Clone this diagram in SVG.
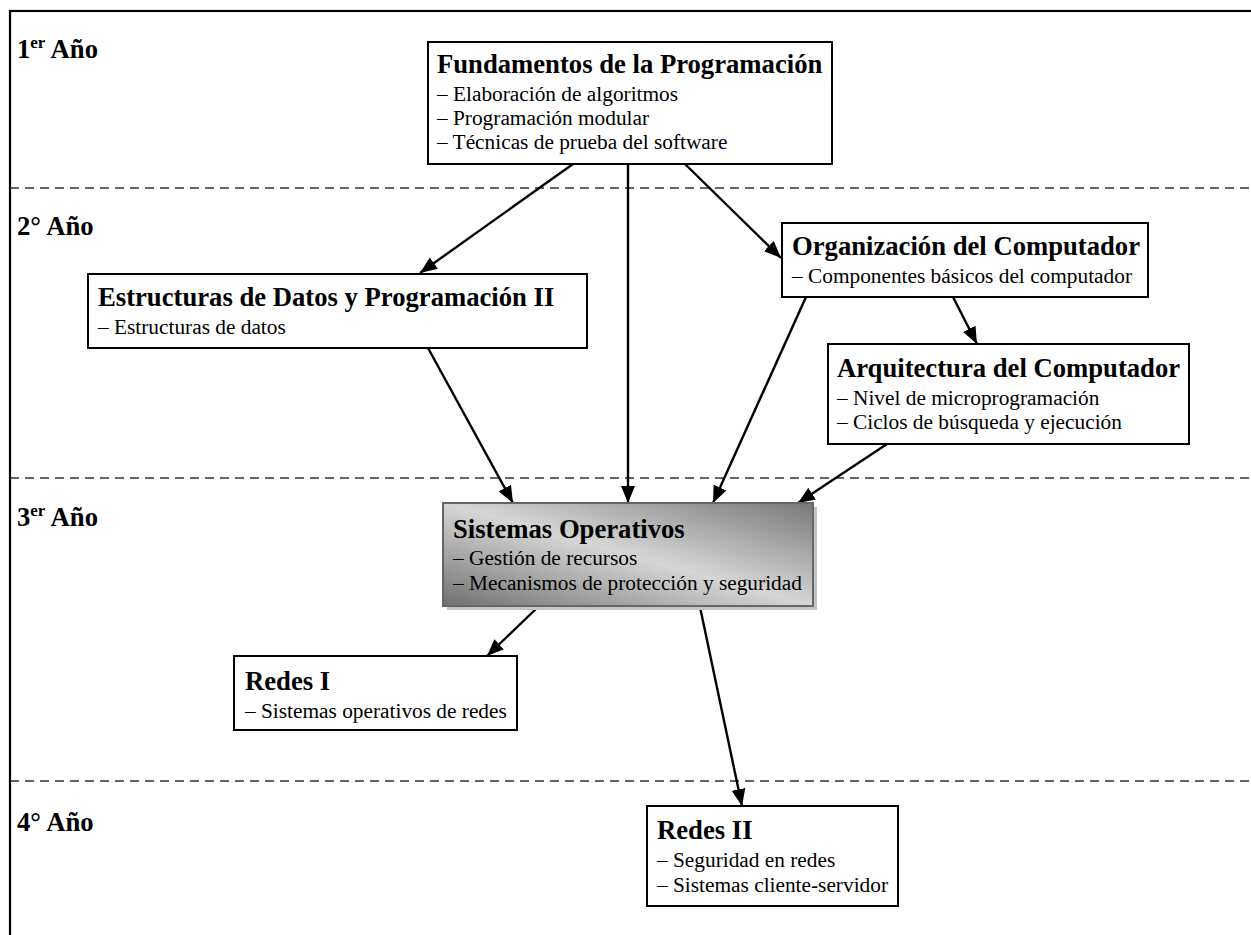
<svg xmlns="http://www.w3.org/2000/svg" width="1251" height="935" viewBox="0 0 1251 935">
<style>
.box{fill:#fff;stroke:#000;stroke-width:2}
.t{font-family:"Liberation Serif","Times New Roman",serif;font-size:26.67px;font-weight:bold;fill:#000}
.i{font-family:"Liberation Serif","Times New Roman",serif;font-size:21.33px;fill:#000}
.yr{font-family:"Liberation Serif","Times New Roman",serif;font-size:26.67px;font-weight:bold;fill:#000}
.dash{stroke:#333;stroke-width:1.4;stroke-dasharray:9 6;fill:none}
.c{stroke:#000;stroke-width:2.4;fill:none;marker-end:url(#ah)}
</style>
<defs>
<marker id="ah" markerUnits="userSpaceOnUse" markerWidth="18" markerHeight="16" refX="17" refY="8" orient="auto">
<path d="M0,1 L17,8 L0,15 z" fill="#000"/>
</marker>
<linearGradient id="so" x1="0" y1="1" x2="1" y2="0">
<stop offset="0" stop-color="#707070"/>
<stop offset="0.5" stop-color="#d6d6d6"/>
<stop offset="1" stop-color="#787878"/>
</linearGradient>
</defs>
<rect width="1251" height="935" fill="#fff"/>
<g id="frame">
<rect x="10" y="11" width="1260" height="940" fill="none" stroke="#000" stroke-width="2.2"/>
<line class="dash" x1="10" y1="188" x2="1251" y2="188"/>
<line class="dash" x1="10" y1="478" x2="1251" y2="478"/>
<line class="dash" x1="10" y1="781" x2="1251" y2="781"/>
</g>
<g id="years">
<text class="yr" x="17" y="58">1<tspan font-size="17" dy="-10">er</tspan><tspan dy="10"> Año</tspan></text>
<text class="yr" x="17" y="235">2° Año</text>
<text class="yr" x="17" y="526">3<tspan font-size="17" dy="-10">er</tspan><tspan dy="10"> Año</tspan></text>
<text class="yr" x="17" y="831">4° Año</text>
</g>
<g id="connectors">
<line class="c" x1="573" y1="164" x2="420" y2="273"/>
<line class="c" x1="628" y1="164" x2="628" y2="503"/>
<line class="c" x1="685" y1="164" x2="781" y2="258"/>
<line class="c" x1="953" y1="297" x2="977" y2="344"/>
<line class="c" x1="428" y1="348" x2="513" y2="503"/>
<line class="c" x1="806" y1="297" x2="713" y2="503"/>
<line class="c" x1="887" y1="444" x2="798" y2="503"/>
<line class="c" x1="538" y1="607" x2="487" y2="656"/>
<line class="c" x1="700" y1="607" x2="742" y2="806"/>
</g>
<g id="fundamentos">
<rect class="box" x="428" y="42" width="404" height="122"/>
<text class="t" x="437" y="73">Fundamentos de la Programación</text>
<text class="i" x="437" y="101">– Elaboración de algoritmos</text>
<text class="i" x="437" y="125">– Programación modular</text>
<text class="i" x="437" y="149">– Técnicas de prueba del software</text>
</g>
<g id="organizacion">
<rect class="box" x="782" y="223" width="366" height="74"/>
<text class="t" x="792" y="255">Organización del Computador</text>
<text class="i" x="792" y="283">– Componentes básicos del computador</text>
</g>
<g id="estructuras">
<rect class="box" x="88" y="274" width="499" height="74"/>
<text class="t" x="98" y="306">Estructuras de Datos y Programación II</text>
<text class="i" x="98" y="334">– Estructuras de datos</text>
</g>
<g id="arquitectura">
<rect class="box" x="828" y="344" width="361" height="100"/>
<text class="t" x="837" y="377">Arquitectura del Computador</text>
<text class="i" x="837" y="405">– Nivel de microprogramación</text>
<text class="i" x="837" y="429">– Ciclos de búsqueda y ejecución</text>
</g>
<g id="sistemas">
<rect x="447" y="507" width="370" height="103" fill="#c4c4c4"/>
<rect x="443" y="503" width="370" height="103" fill="url(#so)" stroke="#666" stroke-width="2"/>
<text class="t" x="453" y="538">Sistemas Operativos</text>
<text class="i" x="453" y="565">– Gestión de recursos</text>
<text class="i" x="453" y="590">– Mecanismos de protección y seguridad</text>
</g>
<g id="redes1">
<rect class="box" x="234" y="656" width="283" height="74"/>
<text class="t" x="245" y="690">Redes I</text>
<text class="i" x="245" y="718">– Sistemas operativos de redes</text>
</g>
<g id="redes2">
<rect class="box" x="647" y="806" width="251" height="100"/>
<text class="t" x="657" y="839">Redes II</text>
<text class="i" x="657" y="867">– Seguridad en redes</text>
<text class="i" x="657" y="892">– Sistemas cliente-servidor</text>
</g>
</svg>
